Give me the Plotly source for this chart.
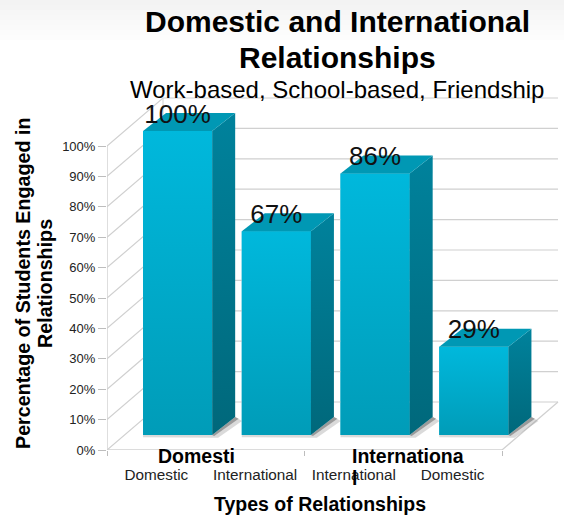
import plotly.graph_objects as go

categories = ["Domestic", "International", "International", "Domestic"]
values = [100, 67, 86, 29]
drawn_heights = [100, 67, 86, 29]
value_labels = ["100%", "67%", "86%", "29%"]
y_ticks = [0, 10, 20, 30, 40, 50, 60, 70, 80, 90, 100]
y_tick_labels = ["0%", "10%", "20%", "30%", "40%", "50%", "60%", "70%", "80%", "90%", "100%"]
group_ticks = [0, 2, 4]

W, H = 564, 516
L, B = 107, 66
PX_X = 98.75
PX_Y = 3.04

# depth of the chart box and of the bars, in axis units
BOX_DX, BOX_DY = 56 / PX_X, 48 / PX_Y
BAR_DX, BAR_DY = 23 / PX_X, 18 / PX_Y
BAR_SHIFT, BAR_BASE = 0.215, 15 / PX_Y
BAR_W = 0.70
GRID = "#d0d0d0"
LABEL_LIFT = 2 / PX_Y

def paper_x(px):
    return (px - L) / (W - L)

def paper_y(py):
    return (H - B - py) / (H - B)

fig = go.Figure()

# back wall, left wall and floor
for v in y_ticks:
    fig.add_trace(go.Scatter(
        x=[0, BOX_DX, 4 + BOX_DX], y=[v, v + BOX_DY, v + BOX_DY],
        mode="lines", line=dict(color=GRID, width=1.2), hoverinfo="skip", showlegend=False))
fig.add_trace(go.Scatter(
    x=[BOX_DX, BOX_DX], y=[BOX_DY, 100 + BOX_DY], mode="lines",
    line=dict(color=GRID, width=1), hoverinfo="skip", showlegend=False))
fig.add_trace(go.Scatter(
    x=[4, 4 + BOX_DX], y=[0, BOX_DY], mode="lines",
    line=dict(color=GRID, width=1.2), hoverinfo="skip", showlegend=False))

centers = [i + 0.5 + BAR_SHIFT for i in range(len(values))]

# floor shadows: a wide soft wedge and a narrower darker one
for c in centers:
    xr = c + BAR_W / 2
    xl = c - BAR_W / 2
    fig.add_trace(go.Scatter(
        x=[xl, xr, xr + BAR_DX, xr + BAR_DX + 0.07, xr + 0.06, xl],
        y=[BAR_BASE, BAR_BASE, BAR_BASE + BAR_DY, BAR_BASE + BAR_DY - 1.3, BAR_BASE - 0.9, BAR_BASE - 0.7],
        mode="lines", fill="toself", fillcolor="rgba(150,150,150,0.35)",
        line=dict(width=0), hoverinfo="skip", showlegend=False))
    fig.add_trace(go.Scatter(
        x=[xr, xr + BAR_DX, xr + BAR_DX + 0.035, xr + 0.02],
        y=[BAR_BASE, BAR_BASE + BAR_DY, BAR_BASE + BAR_DY - 0.6, BAR_BASE - 0.3],
        mode="lines", fill="toself", fillcolor="rgba(90,90,90,0.5)",
        line=dict(width=0), hoverinfo="skip", showlegend=False))

# front faces from the library's bar trace
fig.add_trace(go.Bar(
    x=centers, y=drawn_heights, base=BAR_BASE, width=BAR_W,
    marker=dict(color="#00A8C8", line=dict(width=0)), showlegend=False, hoverinfo="skip"))

for c, h in zip(centers, drawn_heights):
    xl, xr = c - BAR_W / 2, c + BAR_W / 2
    top = BAR_BASE + h
    # gradient front face
    fig.add_trace(go.Scatter(
        x=[xl, xr, xr, xl, xl], y=[BAR_BASE, BAR_BASE, top, top, BAR_BASE],
        mode="lines", fill="toself", line=dict(width=0),
        fillgradient=dict(type="vertical", colorscale=[[0, "#009CB8"], [1, "#00B8DC"]]),
        hoverinfo="skip", showlegend=False))
    # side face
    fig.add_trace(go.Scatter(
        x=[xr, xr + BAR_DX, xr + BAR_DX, xr, xr],
        y=[BAR_BASE, BAR_BASE + BAR_DY, top + BAR_DY, top, BAR_BASE],
        mode="lines", fill="toself", line=dict(width=0),
        fillgradient=dict(type="vertical", colorscale=[[0, "#00687B"], [1, "#00829C"]]),
        hoverinfo="skip", showlegend=False))
    # top face
    fig.add_trace(go.Scatter(
        x=[xl, xr, xr + BAR_DX, xl + BAR_DX, xl],
        y=[top, top, top + BAR_DY, top + BAR_DY, top],
        mode="lines", fill="toself", fillcolor="#0098B4", line=dict(width=0),
        hoverinfo="skip", showlegend=False))

# value labels
fig.add_trace(go.Scatter(
    x=centers, y=[h + BAR_BASE + LABEL_LIFT for h in drawn_heights], mode="text", text=value_labels,
    textposition="top center", textfont=dict(family="Liberation Sans", size=26, color="#111111"),
    cliponaxis=False, hoverinfo="skip", showlegend=False))

# slightly greyed band at the very top of the slide
shapes = []
for i in range(8):
    g = 243 + i * 12 // 8
    shapes.append(dict(type="rect", xref="paper", yref="paper", layer="below",
                       x0=paper_x(0), x1=paper_x(W), y0=paper_y(5 * (i + 1)), y1=paper_y(5 * i),
                       fillcolor=f"rgb({g},{g},{g})", line=dict(width=0)))

FONT = "Liberation Sans"
def note(text, px, py, size, bold=False, angle=0, xanchor="center", color="#000000"):
    return dict(text=f"<b>{text}</b>" if bold else text, x=paper_x(px), y=paper_y(py),
                xref="paper", yref="paper", showarrow=False, xanchor=xanchor, yanchor="middle",
                textangle=angle, font=dict(family=FONT, size=size, color=color), align="center")

annotations = [
    note("Domestic and International", 337, 22, 30, True),
    note("Relationships", 337, 57, 30, True),
    note("Work-based, School-based, Friendship", 337, 90, 24),
    note("Domesti", 156, 456, 19.5, True, xanchor="left"),
    note("Internationa", 350, 456, 19.5, True, xanchor="left"),
    note("l", 350, 478, 19.5, True, xanchor="left"),
    note("Types of Relationships", 320, 504, 19.5, True),
    note("Percentage of Students Engaged in", 23, 284, 19.7, True, angle=-90),
    note("Relationships", 45, 284, 19.7, True, angle=-90),
]

fig.update_layout(
    width=W, height=H, autosize=False,
    margin=dict(l=L, r=0, t=0, b=B, pad=0),
    paper_bgcolor="#ffffff", plot_bgcolor="rgba(0,0,0,0)",
    showlegend=False, shapes=shapes, annotations=annotations,
    xaxis=dict(
        range=[0, (W - L) / PX_X], showgrid=False, zeroline=False, showline=False,
        tickmode="array", tickvals=[0.5, 1.5, 2.5, 3.5], ticktext=categories,
        ticks="", ticklabelstandoff=14, fixedrange=True,
        tickfont=dict(family=FONT, size=15.3, color="#222222"),
        minor=dict(tickmode="array", tickvals=group_ticks, ticks="outside", ticklen=5,
                   tickcolor="#bdbdbd", tickwidth=1, showgrid=False),
    ),
    yaxis=dict(
        range=[0, (H - B) / PX_Y], showgrid=False, zeroline=False,
        showline=False, tickmode="array", tickvals=y_ticks, ticktext=y_tick_labels,
        ticks="outside", ticklen=8, tickcolor="#bdbdbd", fixedrange=True,
        tickfont=dict(family=FONT, size=13, color="#222222"),
    ),
)
fig.add_shape(type="line", xref="x", yref="y", x0=0, x1=0, y0=0, y1=100,
              line=dict(color="#bdbdbd", width=1), layer="below")
fig.add_shape(type="line", xref="x", yref="y", x0=0, x1=4, y0=0, y1=0,
              line=dict(color=GRID, width=1.4), layer="below")

fig.write_html("out.html", config=dict(displayModeBar=False),
               post_script="document.body.style.margin='0';document.documentElement.style.overflow='hidden';")
